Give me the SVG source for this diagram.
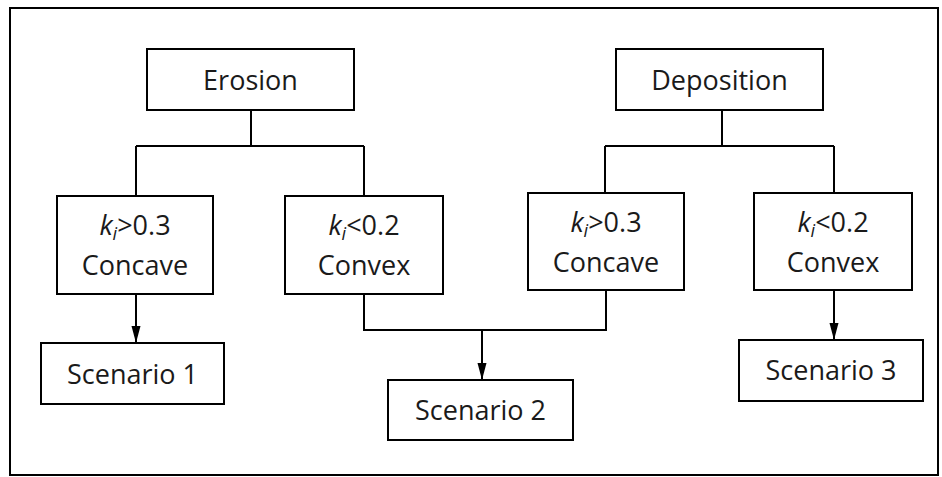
<svg xmlns="http://www.w3.org/2000/svg" width="942" height="477" viewBox="0 0 942 477">
<style>
.box{fill:#fff;stroke:#000;stroke-width:2}
.ln{fill:none;stroke:#000;stroke-width:2}
text{font-family:"Open Sans","Noto Sans",sans-serif;font-size:27px;fill:#1a1a1a;text-anchor:middle}
.it{font-style:italic}
</style>
<defs>
<marker id="arr" markerWidth="17" markerHeight="10" refX="17" refY="5" orient="auto" markerUnits="userSpaceOnUse" viewBox="0 0 17 10">
<path d="M0,0.5 L17,5 L0,9.5 Z" fill="#000"/>
</marker>
</defs>
<rect x="0" y="0" width="942" height="477" fill="#fff"/>
<rect x="10" y="8" width="928" height="467" fill="none" stroke="#000" stroke-width="2"/>
<g id="connectors">
<path class="ln" d="M251,110 V146 M136,146 H364 M136,146 V196 M364,146 V196"/>
<path class="ln" d="M722,110 V146 M605,146 H834 M605,146 V193 M834,146 V193"/>
<path class="ln" d="M136,294 V343" marker-end="url(#arr)"/>
<path class="ln" d="M364,294 V330 H606 V290"/>
<path class="ln" d="M482,330 V380" marker-end="url(#arr)"/>
<path class="ln" d="M834,290 V340" marker-end="url(#arr)"/>
</g>
<g id="erosion"><rect class="box" x="147" y="49" width="207" height="61"/><text x="250.5" y="90">Erosion</text></g>
<g id="deposition"><rect class="box" x="616" y="49" width="207" height="61"/><text x="719.5" y="90">Deposition</text></g>
<g id="erosion-concave"><rect class="box" x="57" y="196" width="156" height="98"/><text x="135" y="235"><tspan class="it">k</tspan><tspan class="it" font-size="18" dy="5">i</tspan><tspan dy="-5">&gt;0.3</tspan></text><text x="135" y="275">Concave</text></g>
<g id="erosion-convex"><rect class="box" x="285" y="196" width="158" height="98"/><text x="364" y="235"><tspan class="it">k</tspan><tspan class="it" font-size="18" dy="5">i</tspan><tspan dy="-5">&lt;0.2</tspan></text><text x="364" y="275">Convex</text></g>
<g id="deposition-concave"><rect class="box" x="528" y="193" width="156" height="97"/><text x="606" y="232"><tspan class="it">k</tspan><tspan class="it" font-size="18" dy="5">i</tspan><tspan dy="-5">&gt;0.3</tspan></text><text x="606" y="272">Concave</text></g>
<g id="deposition-convex"><rect class="box" x="754" y="193" width="158" height="97"/><text x="833" y="232"><tspan class="it">k</tspan><tspan class="it" font-size="18" dy="5">i</tspan><tspan dy="-5">&lt;0.2</tspan></text><text x="833" y="272">Convex</text></g>
<g id="scenario1"><rect class="box" x="41" y="343" width="183" height="61"/><text x="132.5" y="384">Scenario 1</text></g>
<g id="scenario2"><rect class="box" x="388" y="380" width="185" height="60"/><text x="480.5" y="420">Scenario 2</text></g>
<g id="scenario3"><rect class="box" x="739" y="340" width="184" height="61"/><text x="831" y="380">Scenario 3</text></g>
</svg>
